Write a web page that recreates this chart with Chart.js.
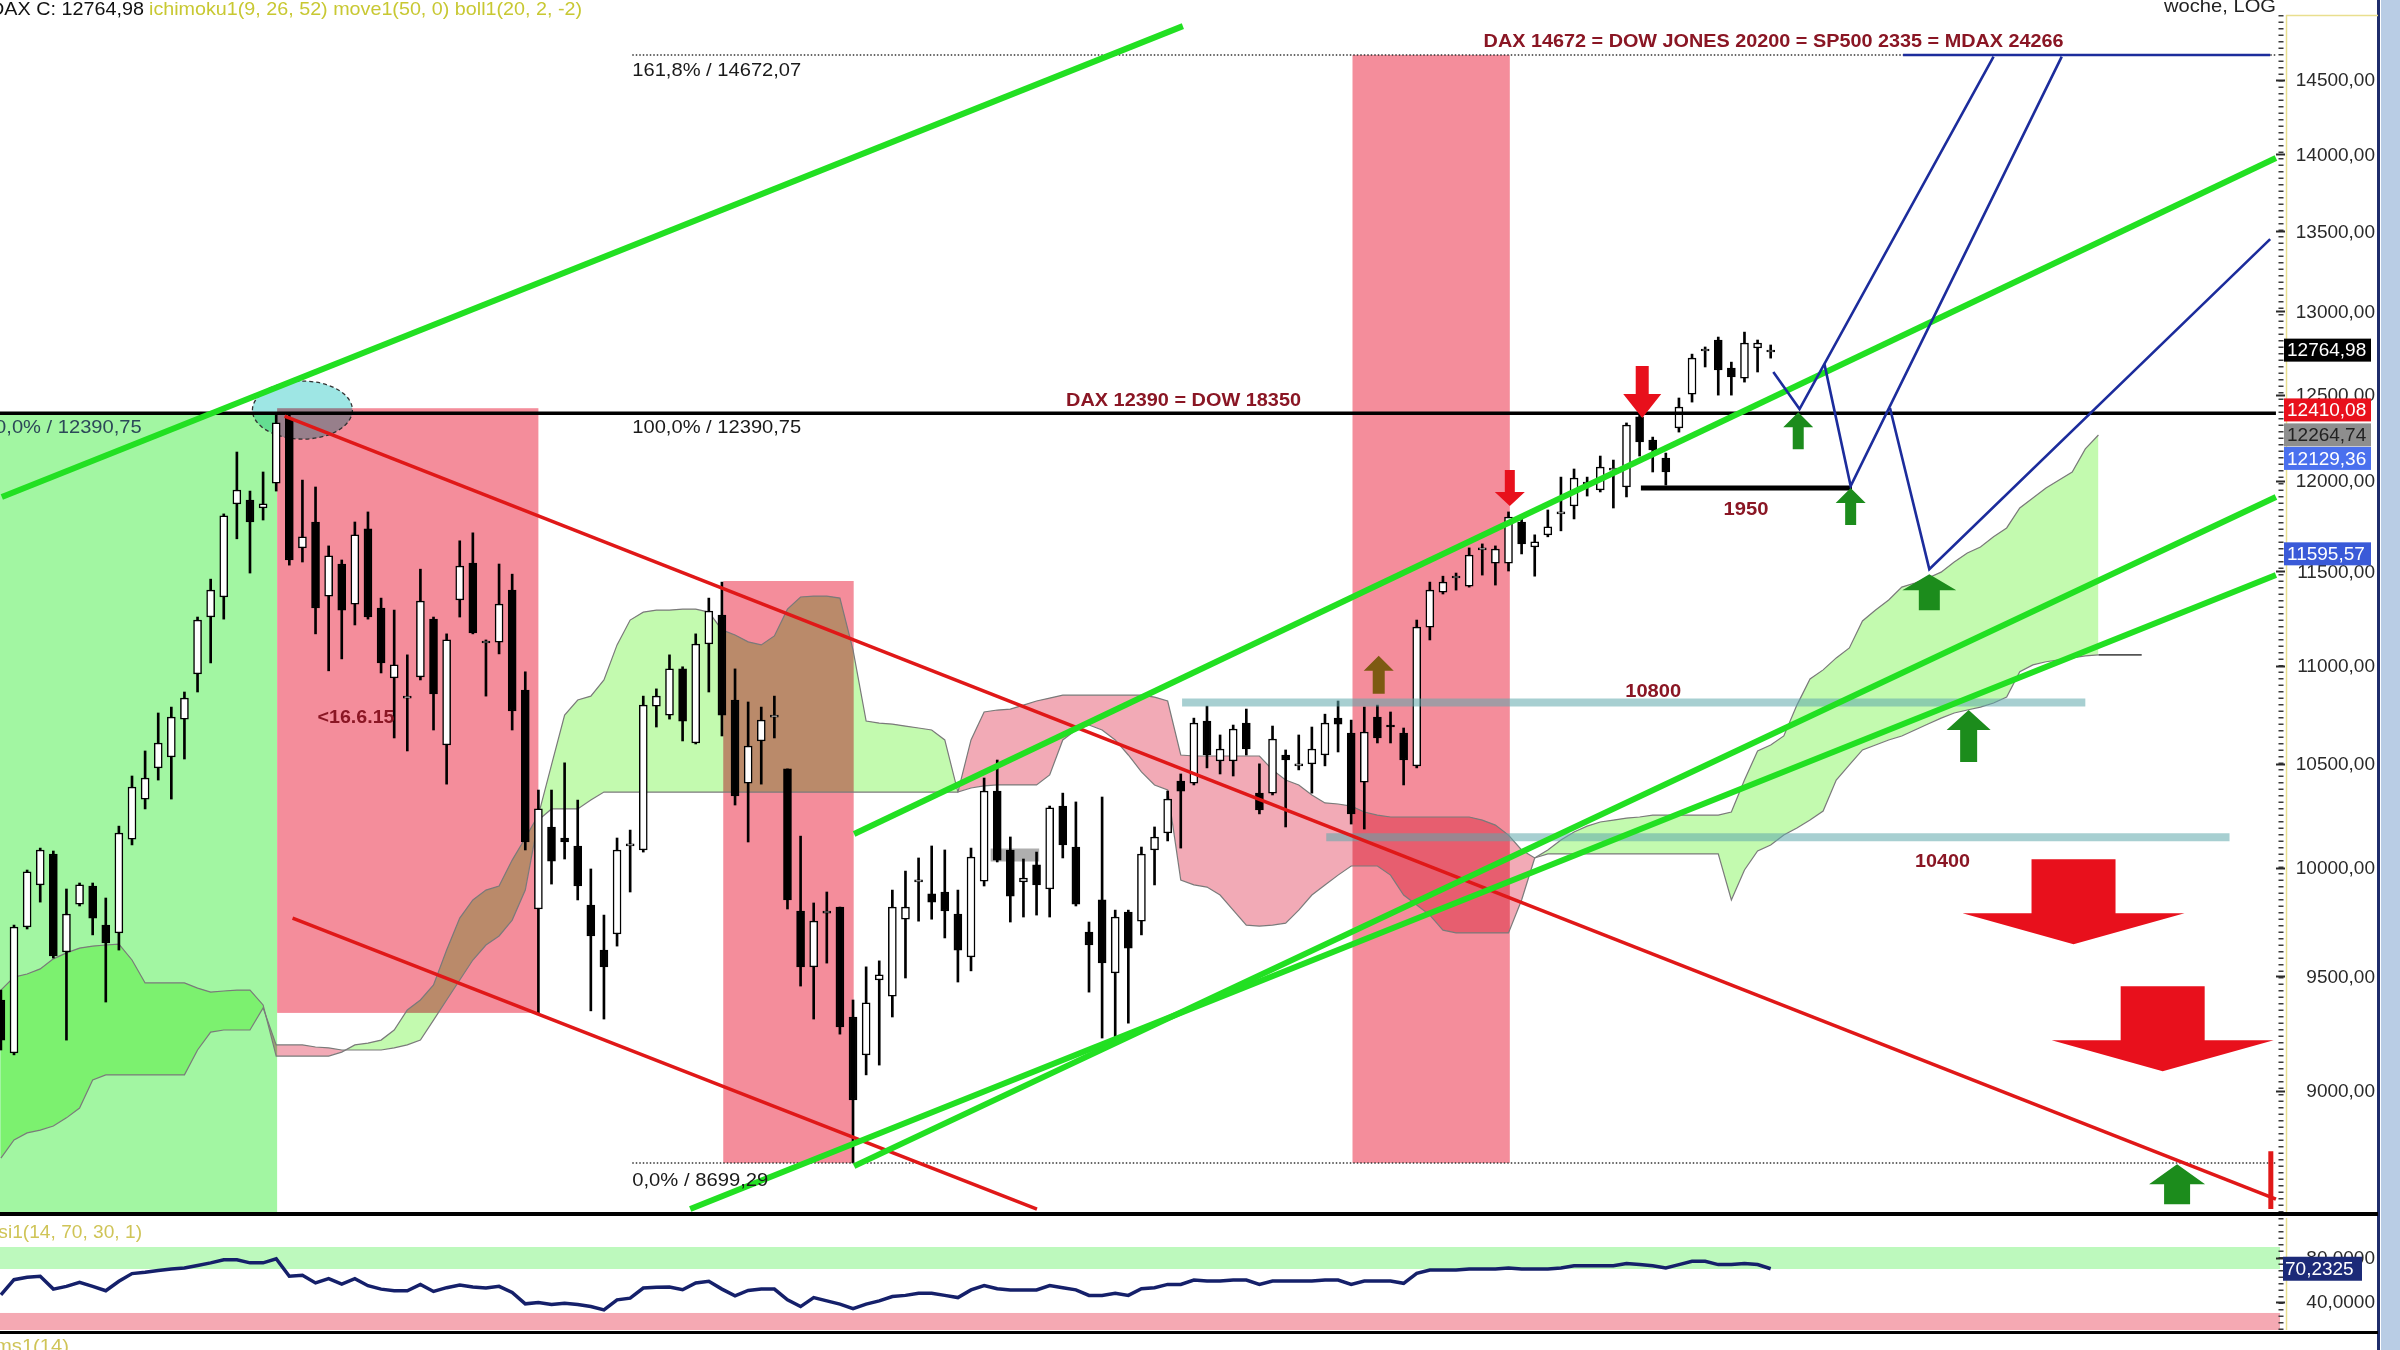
<!DOCTYPE html>
<html>
<head>
<meta charset="utf-8">
<script src="https://cdn.jsdelivr.net/npm/chart.js@4.4.1/dist/chart.umd.min.js"></script>
<style>
  html, body { margin: 0; padding: 0; background: #fff; }
  #wrap { position: relative; width: 2400px; height: 1350px; overflow: hidden; background: #fff; }
  canvas { position: absolute; left: 0; }
  #main { top: 0; }
  #rsi { top: 1216px; }
</style>
</head>
<body>
<div id="wrap">
  <canvas id="main" width="2400" height="1216"></canvas>
  <canvas id="rsi" width="2400" height="134"></canvas>
</div>
<script>
// weekly DAX candles, index 0..135
const opens = [9395, 9163, 9724, 9919, 10065, 9610, 9830, 9914, 9733, 9697,
  10136, 10329, 10482, 10536, 10726, 10957, 11255, 11362, 11872, 11894,
  11849, 11989, 12363, 11628, 11771, 11367, 11540, 11324, 11733, 11303,
  10936, 10833, 10942, 11244, 10596, 11346, 11545, 11118, 11123, 11399,
  10874, 9807, 10194, 10141, 10103, 9825, 9619, 9692, 10103, 10084,
  10792, 10746, 10983, 10606, 11113, 11266, 10823, 10407, 10616, 10736,
  10477, 9798, 9543, 9788, 9816, 9320, 9155, 9484, 9412, 9760,
  9933, 9877, 9886, 9784, 9588, 9937, 10368, 10084, 9933, 10013,
  9900, 10295, 10098, 9701, 9849, 9516, 9793, 9751, 10084, 10165,
  10417, 10407, 10716, 10516, 10516, 10706, 10358, 10358, 10546, 10492,
  10502, 10546, 10731, 10656, 10412, 10736, 10696, 10656, 10492, 11202,
  11388, 11464, 11420, 11617, 11545, 11545, 11771, 11633, 11700, 11816,
  11860, 11984, 11950, 12063, 11967, 12369, 12235, 12132, 12305, 12503,
  12760, 12826, 12658, 12598, 12778, 12754];
const highs = [9439, 9733, 9989, 10093, 10079, 9900, 9928, 9928, 9858, 10198,
  10442, 10566, 10757, 10787, 10864, 11255, 11458, 11816, 12166, 11944,
  12052, 12391, 12380, 12006, 11967, 11639, 11562, 11771, 11827, 11356,
  11292, 11056, 11512, 11255, 11166, 11667, 11711, 11134, 11540, 11485,
  10968, 10373, 10373, 10507, 10324, 9994, 9779, 10141, 10179, 10843,
  10880, 11056, 10994, 11166, 11356, 11442, 10983, 10813, 10787, 10843,
  10477, 10150, 9835, 9886, 9816, 9395, 9543, 9570, 9895, 9984,
  10046, 10103, 10084, 9895, 10093, 10432, 10521, 10146, 10041, 10074,
  10295, 10358, 10315, 9747, 10339, 9802, 9802, 10098, 10194, 10368,
  10452, 10731, 10792, 10646, 10696, 10777, 10502, 10691, 10571, 10646,
  10686, 10751, 10818, 10721, 10787, 10797, 10762, 10681, 11239, 11442,
  11474, 11491, 11628, 11650, 11639, 11827, 11788, 11700, 11838, 12023,
  12069, 12023, 12143, 12120, 12334, 12380, 12252, 12160, 12480, 12741,
  12784, 12844, 12693, 12874, 12826, 12796];
const lows = [9176, 9155, 9715, 9839, 9583, 9219, 9821, 9688, 9386, 9619,
  10108, 10281, 10422, 10329, 10526, 10864, 11014, 11244, 11678, 11491,
  11782, 11944, 11534, 11551, 11166, 10973, 11035, 11213, 11244, 10962,
  10631, 10566, 10926, 10671, 10402, 11255, 11166, 10843, 11061, 10671,
  10084, 9338, 9923, 10041, 9849, 9347, 9311, 9637, 9886, 10074,
  10686, 10726, 10616, 10601, 10864, 10641, 10300, 10122, 10402, 10631,
  9807, 9457, 9311, 9560, 9245, 8700, 9069, 9111, 9320, 9493,
  9751, 9760, 9674, 9475, 9525, 9914, 10027, 9747, 9770, 9779,
  9770, 10046, 9821, 9430, 9228, 9228, 9293, 9688, 9919, 10127,
  10093, 10398, 10482, 10452, 10442, 10546, 10257, 10349, 10194, 10472,
  10358, 10492, 10561, 10208, 10184, 10606, 10606, 10398, 10482, 11134,
  11378, 11399, 11415, 11480, 11426, 11502, 11595, 11474, 11689, 11722,
  11788, 11916, 11939, 11849, 11911, 12143, 12052, 11978, 12281, 12456,
  12664, 12497, 12497, 12574, 12634, 12717];
const closes = [9219, 9724, 9980, 10084, 9592, 9784, 9919, 9765, 9651, 10165,
  10388, 10432, 10606, 10736, 10833, 11239, 11399, 11805, 11950, 11771,
  11872, 12334, 11562, 11689, 11303, 11584, 11292, 11700, 11255, 11014,
  11004, 10838, 11340, 10854, 11134, 11529, 11171, 11123, 11324, 10767,
  10122, 10281, 10031, 10122, 9914, 9683, 9543, 10084, 10113, 10797,
  10843, 10983, 10716, 11113, 11287, 10746, 10344, 10591, 10721, 10746,
  9849, 9543, 9751, 9798, 9276, 8962, 9382, 9507, 9816, 9816,
  9937, 9839, 9798, 9619, 10050, 10368, 10036, 9867, 9951, 9919,
  10286, 10108, 9830, 9642, 9561, 9770, 9628, 10065, 10146, 10329,
  10368, 10706, 10546, 10576, 10676, 10576, 10276, 10626, 10521, 10497,
  10576, 10706, 10701, 10257, 10661, 10631, 10686, 10521, 11202, 11399,
  11442, 11474, 11589, 11622, 11622, 11799, 11650, 11661, 11744, 11827,
  12018, 11995, 12080, 12074, 12322, 12224, 12178, 12052, 12427, 12717,
  12772, 12646, 12604, 12808, 12808, 12765];

// ichimoku cloud (already shifted 26 weeks ahead), index 0..160
const spanA = [9439, 9497, 9511, 9534, 9579, 9606, 9628, 9637, 9642, 9646,
  9574, 9471, 9471, 9471, 9471, 9448, 9430, 9435, 9439, 9439,
  9373, 9150, 9150, 9150, 9150, 9150, 9167, 9198, 9206, 9219,
  9263, 9351, 9395, 9462, 9619, 9765, 9849, 9895, 9914, 10036,
  10141, 10251, 10497, 10746, 10823, 10843, 10926, 11108, 11239, 11281,
  11292, 11292, 11297, 11297, 11281, 11187, 11160, 11124, 11108, 11155,
  11297, 11362, 11367, 11367, 11356, 11082, 10716, 10706, 10701, 10691,
  10681, 10671, 10621, 10363, 10383, 10393, 10398, 10398, 10398, 10398,
  10447, 10621, 10671, 10696, 10671, 10621, 10546, 10462, 10398, 10373,
  9942, 9919, 9909, 9872, 9802, 9733, 9728, 9733, 9742, 9802,
  9872, 9919, 9965, 10008, 10008, 10008, 9965, 9872, 9826, 9779,
  9710, 9697, 9697, 9697, 9697, 9697, 9849, 10046, 10084, 10131,
  10170, 10198, 10218, 10227, 10237, 10242, 10251, 10251, 10251, 10251,
  10251, 10251, 10266, 10422, 10566, 10596, 10641, 10797, 10931, 10978,
  11040, 11092, 11234, 11292, 11346, 11415, 11437, 11464, 11496, 11551,
  11600, 11633, 11689, 11738, 11849, 11905, 11961, 12006, 12052, 12184,
  12264];
const spanB = [8720, 8795, 8824, 8836, 8853, 8887, 8928, 9047, 9069, 9069,
  9069, 9069, 9069, 9069, 9069, 9176, 9254, 9263, 9263, 9263,
  9360, 9198, 9198, 9198, 9189, 9185, 9176, 9176, 9176, 9176,
  9185, 9198, 9219, 9306, 9395, 9484, 9574, 9642, 9683, 9756,
  9895, 10227, 10281, 10281, 10281, 10324, 10363, 10363, 10363, 10363,
  10363, 10363, 10363, 10363, 10363, 10363, 10363, 10363, 10363, 10363,
  10363, 10363, 10363, 10363, 10363, 10363, 10363, 10363, 10363, 10363,
  10363, 10363, 10363, 10363, 10621, 10762, 10772, 10777, 10797, 10818,
  10833, 10848, 10848, 10848, 10848, 10848, 10848, 10848, 10838, 10818,
  10546, 10541, 10541, 10541, 10541, 10541, 10541, 10472, 10422, 10398,
  10349, 10310, 10305, 10295, 10266, 10251, 10242, 10242, 10242, 10242,
  10242, 10242, 10242, 10227, 10203, 10155, 10084, 10046, 10065, 10065,
  10065, 10065, 10065, 10065, 10065, 10065, 10065, 10065, 10065, 10065,
  10065, 10065, 9849, 9989, 10079, 10108, 10155, 10189, 10227, 10271,
  10422, 10497, 10571, 10596, 10621, 10641, 10671, 10701, 10731, 10757,
  10772, 10787, 10808, 10838, 10968, 11004, 11020, 11030, 11040, 11051,
  11056];

// RSI(14), index 0..135
const rsi = [46.5, 60.3, 62.5, 63.4, 51.7, 54.2, 57.9, 54.2, 50.2, 58.8,
  65.8, 67.0, 68.6, 70.1, 71.0, 73.2, 75.6, 78.4, 78.4, 75.6,
  75.6, 79.3, 63.4, 64.3, 57.3, 61.2, 56.3, 61.2, 54.8, 51.7,
  50.2, 50.2, 56.0, 49.6, 53.0, 55.4, 53.6, 52.7, 54.2, 48.7,
  38.3, 39.5, 37.7, 38.9, 37.7, 35.8, 32.8, 41.9, 43.5, 52.7,
  53.3, 53.6, 51.1, 57.3, 58.8, 51.7, 45.6, 50.5, 51.7, 51.7,
  41.9, 35.8, 44, 41, 38, 34, 38, 41, 45, 46,
  48, 48, 46, 44, 51, 55, 52, 51, 51, 51,
  55, 53, 51, 46, 46, 48, 46, 52, 53, 56,
  56, 60, 59, 59, 60, 60, 56, 59, 59, 59,
  59, 60, 60, 56, 59, 59, 59, 57, 66, 69,
  69, 69, 70, 70, 70, 71, 70, 70, 70, 71,
  73, 73, 73, 73, 75, 74, 73, 71, 74, 77,
  77, 74, 74, 75, 74, 70.2325];

const yTicks = [9000, 9500, 10000, 10500, 11000, 11500, 12000, 12500, 13000, 13500, 14000, 14500];
const rsiTicks = [40, 80];
const priceTags = [12764.98, 12410.08, 12264.74, 12129.36, 11595.57];
const rsiTag = 70.2325;

// drawn studies: [index, price] pairs
const fibLevels = [14672.07, 12390.75, 8699.29];
const greenTrends = [
  [[0.07, 11911], [90.16, 14873]],
  [[65.08, 10160], [173.54, 13976]],
  [[65.08, 8687], [173.54, 11911]],
  [[52.58, 8513], [173.54, 11480]]
];
const redTrends = [
  [[21.64, 12374], [173.54, 8553]],
  [[22.25, 9765], [79.03, 8513]],
  [[173.15, 8748], [173.15, 8513]]
];
const blueProjection = [
  [[135.2, 12634], [137.2, 12415], [152.0, 14660]],
  [[139.1, 12681], [141.1, 11972], [157.2, 14660]],
  [[144.1, 12421], [147.1, 11512], [173.1, 13451]],
  [[145.1, 14672], [173.1, 14672]]
];
const supportLine = [[125.1, 11961], [141.2, 11961]];
const tealLevels = [
  [[90.1, 10810], [159.0, 10810]],
  [[101.1, 10145], [170.0, 10145]]
];
const grayMarker = [[75.5, 10060], [79.2, 10060]];
const cloudEndTick = [[160, 11056], [163.3, 11056]];
const bandGreen = [[-0.07, 21.07, 12390.75, 8497]];
const bandsPink = [[21.07, 41.0, 12420, 9338], [55.1, 65.05, 11448, 8700], [103.1, 115.1, 14672, 8700]];
const peakMark = { i: 23.0, p: 12409 };
const arrowMarks = [
  { i: 115.1, p: 11860, kind: 'redS' },
  { i: 125.2, p: 12363, kind: 'redM' },
  { i: 105.1, p: 11051, kind: 'brown' },
  { i: 137.1, p: 12397, kind: 'greenS' },
  { i: 141.1, p: 11961, kind: 'greenS' },
  { i: 147.1, p: 11485, kind: 'greenL' },
  { i: 150.1, p: 10772, kind: 'greenM' },
  { i: 166.0, p: 8695, kind: 'greenB' },
  { i: 158.1, p: 9645, kind: 'redBig' },
  { i: 164.9, p: 9085, kind: 'redBig' }
];
const notes = [
  { t: '161,8% / 14672,07', i: 48.16, p: 14672.07, dy: 21, c: '#1a1a1a', w: 169 },
  { t: '100,0% / 12390,75', i: 48.16, p: 12390.75, dy: 20, c: '#1a1a1a', w: 169 },
  { t: '100,0% / 12390,75', i: 10.74, p: 12390.75, dy: 20, c: '#2c4858', w: 169, right: true },
  { t: '0,0% / 8699,29', i: 48.16, p: 8699.29, dy: 23, c: '#1a1a1a', w: 136 },
  { t: 'DAX 14672 = DOW JONES 20200 = SP500 2335 = MDAX 24266', i: 113.1, p: 14672.07, dy: -8, c: '#8a1624', w: 580, b: true },
  { t: 'DAX 12390 = DOW 18350', i: 81.25, p: 12390.75, dy: -7, c: '#8a1624', w: 235, b: true },
  { t: '<16.6.15', i: 24.15, p: 10706, dy: 0, c: '#8a1624', w: 77, b: true },
  { t: '10800', i: 123.9, p: 10810, dy: -6, c: '#8a1624', w: 56, b: true },
  { t: '1950', i: 131.4, p: 11961, dy: 27, c: '#8a1624', w: 45, b: true },
  { t: '10400', i: 146.0, p: 10145, dy: 30, c: '#8a1624', w: 55, b: true }
];

const arrowStyle = {
  redS:   { dir: 1, hw: 30, hh: 14, sw: 10, sh: 22, c: '#e8101c' },
  redM:   { dir: 1, hw: 38, hh: 24, sw: 13, sh: 28, c: '#e8101c' },
  brown:  { dir: -1, hw: 30, hh: 15, sw: 12, sh: 23, c: '#7d5a12' },
  greenS: { dir: -1, hw: 30, hh: 15, sw: 11, sh: 22, c: '#1c8c1c' },
  greenL: { dir: -1, hw: 54, hh: 16, sw: 21, sh: 20, c: '#1c8c1c' },
  greenM: { dir: -1, hw: 44, hh: 20, sw: 17, sh: 32, c: '#1c8c1c' },
  greenB: { dir: -1, hw: 56, hh: 20, sw: 26, sh: 20, c: '#1c8c1c' },
  redBig: { dir: 1, hw: 222, hh: 31, sw: 84, sh: 54, c: '#e8101c' }
};
const tagColors = [['#000000', '#ffffff'], ['#e8101c', '#ffffff'], ['#8e8e8e', '#222222'], ['#4a70ee', '#ffffff'], ['#3a5ad8', '#ffffff']];

const X_MIN = -0.069, X_MAX = 173.85;
const FONT = 'Liberation Sans, Arial, sans-serif';
const fmt = (v, d) => v.toFixed(d).replace('.', ',');

Chart.defaults.font.family = FONT;

function line(points, color, width, order, dash) {
  return {
    type: 'line',
    data: points.map(p => ({ x: p[0], y: p[1] })),
    borderColor: color, borderWidth: width, borderDash: dash || [],
    pointRadius: 0, fill: false, tension: 0, order: order
  };
}

function fitText(ctx, text, x, y, font, color, width, right) {
  ctx.save();
  ctx.font = font;
  ctx.fillStyle = color;
  ctx.textBaseline = 'alphabetic';
  ctx.textAlign = 'left';
  const w = ctx.measureText(text).width;
  const sx = width ? width / w : 1;
  ctx.translate(right ? x - w * sx : x, y);
  ctx.scale(sx, 1);
  ctx.fillText(text, 0, 0);
  ctx.restore();
}

function drawArrow(ctx, x, tip, s) {
  const d = s.dir;
  ctx.beginPath();
  ctx.moveTo(x, tip);
  ctx.lineTo(x - s.hw / 2, tip - d * s.hh);
  ctx.lineTo(x - s.sw / 2, tip - d * s.hh);
  ctx.lineTo(x - s.sw / 2, tip - d * (s.hh + s.sh));
  ctx.lineTo(x + s.sw / 2, tip - d * (s.hh + s.sh));
  ctx.lineTo(x + s.sw / 2, tip - d * s.hh);
  ctx.lineTo(x + s.hw / 2, tip - d * s.hh);
  ctx.closePath();
  ctx.fillStyle = s.c;
  ctx.fill();
}

// value labels of a right-hand axis, taken from the scale's own ticks
function axisLabels(ctx, scale, decimals) {
  ctx.save();
  ctx.font = '19px ' + FONT;
  ctx.fillStyle = '#2a2a2a';
  ctx.textAlign = 'right';
  ctx.textBaseline = 'middle';
  scale.ticks.forEach(t => ctx.fillText(fmt(t.value, decimals), 2375, scale.getPixelForValue(t.value) + 1));
  ctx.strokeStyle = '#2a2a2a';
  ctx.lineWidth = 2;
  scale.ticks.forEach(t => {
    const yy = Math.round(scale.getPixelForValue(t.value)) + 0.5;
    ctx.beginPath(); ctx.moveTo(2276, yy); ctx.lineTo(2285, yy); ctx.stroke();
  });
  ctx.restore();
}

function axisFrame(ctx, top, bottom, fullTop, fullBottom) {
  ctx.save();
  ctx.strokeStyle = '#3a3a3a';
  ctx.lineWidth = 5;
  ctx.setLineDash([1.5, 5]);
  ctx.beginPath(); ctx.moveTo(2281, top); ctx.lineTo(2281, bottom); ctx.stroke();
  ctx.setLineDash([]);
  ctx.strokeStyle = '#e9df8e';
  ctx.lineWidth = 1.5;
  ctx.beginPath(); ctx.moveTo(2286.5, top); ctx.lineTo(2286.5, bottom); ctx.stroke();
  ctx.fillStyle = '#b9cde5';
  ctx.fillRect(2381, fullTop, 19, fullBottom - fullTop);
  ctx.strokeStyle = '#1f2d6b';
  ctx.lineWidth = 3;
  ctx.beginPath(); ctx.moveTo(2378.5, fullTop); ctx.lineTo(2378.5, fullBottom); ctx.stroke();
  ctx.restore();
}

function tag(ctx, y, text, bg, fg) {
  ctx.save();
  ctx.fillStyle = bg;
  ctx.fillRect(2284, y - 11.5, 87, 23);
  ctx.font = '19px ' + FONT;
  ctx.fillStyle = fg;
  ctx.textBaseline = 'middle';
  ctx.textAlign = 'left';
  ctx.fillText(text, 2287, y + 1);
  ctx.restore();
}

const mainDeco = {
  id: 'mainDeco',
  beforeDraw(chart) {
    const { ctx, scales: { x, y } } = chart;
    ctx.save();
    ctx.fillStyle = '#ffffff';
    ctx.fillRect(0, 0, chart.width, chart.height);
    const rect = (b, col) => {
      const x0 = x.getPixelForValue(b[0]), x1 = x.getPixelForValue(b[1]);
      const y0 = y.getPixelForValue(b[2]), y1 = y.getPixelForValue(b[3]);
      ctx.fillStyle = col;
      ctx.fillRect(x0, y0, x1 - x0, y1 - y0);
    };
    bandGreen.forEach(b => rect(b, '#a2f6a2'));
    bandsPink.forEach(b => rect(b, '#f48d9b'));
    ctx.restore();
  },
  beforeDatasetsDraw(chart) {
    const { ctx, chartArea: a, scales: { x, y } } = chart;
    const A = spanA.map((v, i) => [x.getPixelForValue(i), y.getPixelForValue(v)]);
    const B = spanB.map((v, i) => [x.getPixelForValue(i), y.getPixelForValue(v)]);
    const trace = (L) => L.forEach((p, k) => k ? ctx.lineTo(p[0], p[1]) : ctx.moveTo(p[0], p[1]));
    const band = () => {
      ctx.beginPath(); trace(A);
      for (let k = B.length - 1; k >= 0; k--) ctx.lineTo(B[k][0], B[k][1]);
      ctx.closePath();
    };
    const above = (L) => {
      ctx.beginPath(); trace(L);
      ctx.lineTo(L[L.length - 1][0], a.top - 20);
      ctx.lineTo(L[0][0], a.top - 20);
      ctx.closePath();
    };
    ctx.save();
    ctx.beginPath(); ctx.rect(a.left, a.top, a.right - a.left, a.bottom - a.top); ctx.clip();
    ctx.globalCompositeOperation = 'multiply';
    [[B, '#c3faaf'], [A, '#f2aab6']].forEach(([L, col]) => {
      ctx.save(); above(L); ctx.clip(); band(); ctx.fillStyle = col; ctx.fill(); ctx.restore();
    });
    // marked top
    const ex = x.getPixelForValue(peakMark.i), ey = y.getPixelForValue(peakMark.p);
    ctx.beginPath(); ctx.ellipse(ex, ey, 50, 29, 0, 0, Math.PI * 2);
    ctx.fillStyle = '#9ee6e4'; ctx.fill();
    ctx.globalCompositeOperation = 'source-over';
    ctx.setLineDash([4, 3]); ctx.lineWidth = 1.3; ctx.strokeStyle = '#333'; ctx.stroke();
    ctx.restore();
  },
  afterDatasetsDraw(chart) {
    const { ctx, scales: { x, y } } = chart;
    arrowMarks.forEach(m => drawArrow(ctx, x.getPixelForValue(m.i), y.getPixelForValue(m.p), arrowStyle[m.kind]));
    notes.forEach(n => {
      fitText(ctx, n.t, x.getPixelForValue(n.i), y.getPixelForValue(n.p) + n.dy,
        (n.b ? 'bold ' : '') + '19px ' + FONT, n.c, n.w, n.right);
    });
  },
  afterDraw(chart) {
    const { ctx, chartArea: a, scales: { y } } = chart;
    fitText(ctx, 'DAX C: 12764,98', -10, 15, '19px ' + FONT, '#111', 154);
    fitText(ctx, 'ichimoku1(9, 26, 52) move1(50, 0) boll1(20, 2, -2)', 149, 15, '19px ' + FONT, '#c8c832', 433);
    fitText(ctx, 'woche, LOG', 2276, 12, '19px ' + FONT, '#222', 112, true);
    axisFrame(ctx, a.top, a.bottom, 0, chart.height);
    axisLabels(ctx, y, 2);
    ctx.save();
    ctx.strokeStyle = '#e9df8e'; ctx.lineWidth = 1.5;
    ctx.beginPath(); ctx.moveTo(2286, a.top + 0.5); ctx.lineTo(2378, a.top + 0.5); ctx.stroke();
    ctx.strokeStyle = '#000'; ctx.lineWidth = 4;
    ctx.beginPath(); ctx.moveTo(0, 1214); ctx.lineTo(2378, 1214); ctx.stroke();
    ctx.restore();
    priceTags.forEach((v, k) => tag(ctx, y.getPixelForValue(v), fmt(v, 2), tagColors[k][0], tagColors[k][1]));
  }
};

const idx = closes.map((_, i) => i);
const datasets = [
  line(spanA.map((v, i) => [i, v]), '#7a7a7a', 1.2, 60),
  line(spanB.map((v, i) => [i, v]), '#7a7a7a', 1.2, 60),
  line(cloudEndTick, '#555', 1.6, 60),
  line(grayMarker, 'rgba(110,110,110,0.55)', 13, 55),
  {
    type: 'bar', label: 'wicks', order: 50, grouped: false, barThickness: 2,
    data: idx.map(i => ({ x: i, y: [lows[i], highs[i]] })),
    backgroundColor: '#000', borderWidth: 0
  },
  {
    type: 'bar', label: 'bodies', order: 40, grouped: false, barThickness: 8, minBarLength: 2,
    data: idx.map(i => ({ x: i, y: [opens[i], closes[i]] })),
    backgroundColor: c => closes[c.dataIndex] >= opens[c.dataIndex] ? '#ffffff' : '#000000',
    borderColor: '#000', borderWidth: 1.5, borderSkipped: false
  }
];
tealLevels.forEach(t => datasets.push(line(t, 'rgba(95,168,172,0.55)', 8, 30)));
datasets.push(line([[-0.07, fibLevels[1]], [173.54, fibLevels[1]]], '#000', 3.5, 25));
datasets.push(line([[48.16, fibLevels[0]], [173.54, fibLevels[0]]], '#333', 1.5, 26, [1.5, 2]));
datasets.push(line([[48.16, fibLevels[2]], [173.54, fibLevels[2]]], '#333', 1.5, 26, [1.5, 2]));
datasets.push(line(supportLine, '#000', 5, 25));
redTrends.forEach((t, k) => datasets.push(line(t, '#e01818', k === 2 ? 5 : 3.5, 20)));
greenTrends.forEach(t => datasets.push(line(t, '#22e022', 6, 15)));
blueProjection.forEach(t => datasets.push(line(t, '#1c2c9c', 2.6, 10)));

new Chart(document.getElementById('main'), {
  type: 'bar',
  data: { datasets },
  options: {
    responsive: false, animation: false, devicePixelRatio: 1,
    layout: { padding: { top: 15, bottom: 3, left: 0, right: 0 } },
    plugins: { legend: { display: false }, tooltip: { enabled: false } },
    scales: {
      x: { type: 'linear', min: X_MIN, max: X_MAX, offset: false, bounds: 'data', display: false },
      y: {
        type: 'logarithmic', position: 'right', min: 8497, max: 14951, bounds: 'data',
        grid: { display: false, drawTicks: false }, border: { display: false },
        afterBuildTicks: s => { s.ticks = yTicks.map(v => ({ value: v })); },
        afterFit: s => { s.width = 120; s.paddingTop = 0; s.paddingBottom = 0; },
        ticks: { display: false, autoSkip: false }
      }
    }
  },
  plugins: [mainDeco]
});

const rsiDeco = {
  id: 'rsiDeco',
  beforeDraw(chart) {
    const { ctx, chartArea: a, scales: { y } } = chart;
    ctx.save();
    ctx.fillStyle = '#fff';
    ctx.fillRect(0, 0, chart.width, chart.height);
    ctx.fillStyle = '#bdf9bd';
    ctx.fillRect(a.left, y.getPixelForValue(90), a.right - a.left, y.getPixelForValue(70) - y.getPixelForValue(90));
    ctx.fillStyle = '#f5a9b3';
    ctx.fillRect(a.left, y.getPixelForValue(30), a.right - a.left, a.bottom - y.getPixelForValue(30));
    ctx.restore();
  },
  afterDraw(chart) {
    const { ctx, chartArea: a, scales: { y } } = chart;
    fitText(ctx, 'rsi1(14, 70, 30, 1)', 142, 22, '19px ' + FONT, '#cfc457', 150, true);
    fitText(ctx, 'ms1(14)', 69, 136, '19px ' + FONT, '#cfc457', 74, true);
    axisFrame(ctx, a.top, a.bottom, 0, chart.height);
    axisLabels(ctx, y, 4);
    ctx.save();
    ctx.strokeStyle = '#000'; ctx.lineWidth = 3;
    ctx.beginPath(); ctx.moveTo(0, 116.5); ctx.lineTo(2378, 116.5); ctx.stroke();
    ctx.restore();
    ctx.save();
    const ty = y.getPixelForValue(rsiTag);
    ctx.fillStyle = '#1c2a78';
    ctx.fillRect(2283, ty - 12, 79, 24);
    ctx.font = '19px ' + FONT; ctx.fillStyle = '#fff'; ctx.textBaseline = 'middle';
    ctx.fillText(fmt(rsiTag, 4), 2285, ty + 1);
    ctx.restore();
  }
};

new Chart(document.getElementById('rsi'), {
  type: 'line',
  data: { datasets: [{
    data: rsi.map((v, i) => ({ x: i, y: v })),
    borderColor: '#15206a', borderWidth: 3.5, pointRadius: 0, tension: 0, fill: false
  }] },
  options: {
    responsive: false, animation: false, devicePixelRatio: 1,
    layout: { padding: { top: 2, bottom: 20, left: 0, right: 0 } },
    plugins: { legend: { display: false }, tooltip: { enabled: false } },
    scales: {
      x: { type: 'linear', min: X_MIN, max: X_MAX, offset: false, bounds: 'data', display: false },
      y: {
        type: 'linear', position: 'right', min: 14.5, max: 116.4, bounds: 'data',
        grid: { display: false, drawTicks: false }, border: { display: false },
        afterBuildTicks: s => { s.ticks = rsiTicks.map(v => ({ value: v })); },
        afterFit: s => { s.width = 120; s.paddingTop = 0; s.paddingBottom = 0; },
        ticks: { display: false, autoSkip: false }
      }
    }
  },
  plugins: [rsiDeco]
});
</script>
</body>
</html>
